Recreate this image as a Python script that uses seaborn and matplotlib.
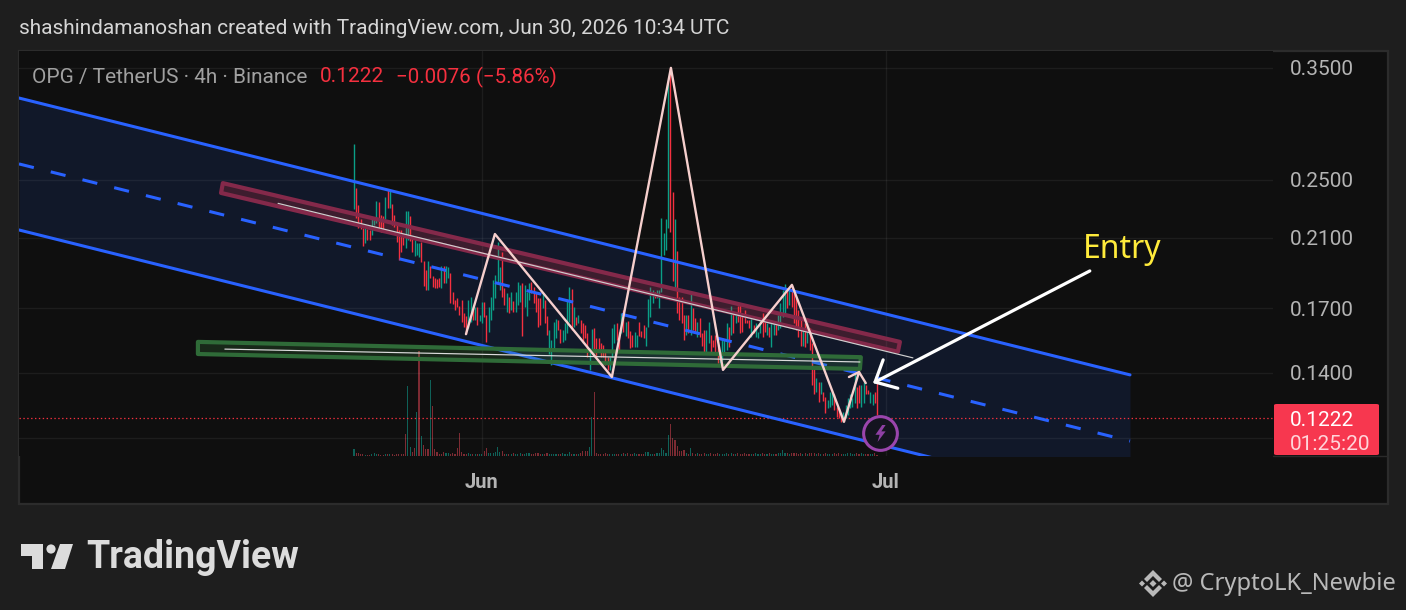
import pandas as pd
import matplotlib.pyplot as plt
import seaborn as sns
from matplotlib.patches import Polygon, Rectangle, Circle, FancyBboxPatch
from matplotlib.lines import Line2D

# 4h candles, high / low / direction, one entry per bar
bar_high = [
    .2785, .2440, .2319, .2223, .2164, .2164, .2157, .2151, .2236, .2236,
    .2347, .2340, .2250, .2243, .2375, .2425, .2418, .2326, .2250, .2183,
    .2151, .2151, .2119, .2277, .2277, .2243, .2100, .2087, .2068, .2068,
    .2075, .1960, .1908, .1960, .1931, .1874, .1862, .1857, .1862, .1931,
    .1931, .1931, .1925, .1890, .1786, .1744, .1755, .1712, .1744, .1677,
    .1661, .1744, .1760, .1707, .1707, .1707, .1666, .1734, .1734, .1666,
    .1707, .1760, .1851, .1880, .2075, .1925, .2013, .1808, .1781, .1760,
    .1786, .1739, .1786, .1840, .1824, .1835, .1824, .1786, .1835, .1840,
    .1813, .1781, .1755, .1755, .1781, .1744, .1661, .1593, .1546, .1631,
    .1646, .1641, .1598, .1593, .1626, .1749, .1813, .1802, .1707, .1656,
    .1666, .1641, .1626, .1617, .1578, .1509, .1598, .1602, .1556, .1556,
    .1532, .1523, .1500, .1468, .1468, .1602, .1622, .1626, .1584, .1677,
    .1692, .1631, .1636, .1589, .1568, .1584, .1568, .1631, .1589, .1617,
    .1607, .1749, .1813, .1797, .1786, .1797, .1797, .2230, .2132, .2223,
    .3344, .3500, .2411, .2223, .2019, .1760, .1760, .1666, .1666, .1666,
    .1786, .1702, .1651, .1631, .1651, .1578, .1593, .1593, .1631, .1568,
    .1546, .1568, .1523, .1500, .1546, .1546, .1626, .1607, .1712, .1682,
    .1682, .1712, .1728, .1677, .1692, .1641, .1641, .1651, .1617, .1626,
    .1584, .1641, .1677, .1641, .1626, .1607, .1641, .1626, .1631, .1666,
    .1728, .1797, .1830, .1797, .1797, .1824, .1786, .1755, .1692, .1651,
    .1593, .1626, .1626, .1602, .1532, .1421, .1380, .1363, .1363, .1322,
    .1302, .1291, .1322, .1322, .1314, .1264, .1260, .1242, .1245, .1272,
    .1299, .1314, .1299, .1405, .1342, .1351, .1351, .1363, .1351, .1330,
    .1322, .1314, .1322, .1385,
]
bar_low = [
    .2291, .2230, .2164, .2157, .2050, .2068, .2087, .2087, .2119, .2183,
    .2196, .2164, .2138, .2151, .2223, .2298, .2298, .2183, .2170, .2075,
    .1966, .2013, .2056, .2037, .2087, .2081, .2013, .1990, .1996, .1984,
    .1954, .1820, .1797, .1797, .1862, .1813, .1808, .1808, .1813, .1808,
    .1835, .1835, .1862, .1728, .1723, .1692, .1707, .1666, .1631, .1607,
    .1573, .1602, .1631, .1641, .1641, .1617, .1636, .1626, .1656, .1537,
    .1584, .1641, .1692, .1755, .1835, .1797, .1760, .1718, .1682, .1677,
    .1692, .1682, .1682, .1718, .1734, .1563, .1707, .1661, .1744, .1781,
    .1728, .1682, .1607, .1617, .1702, .1626, .1568, .1482, .1434, .1500,
    .1556, .1593, .1532, .1537, .1546, .1578, .1631, .1593, .1607, .1617,
    .1626, .1578, .1532, .1556, .1468, .1413, .1500, .1486, .1468, .1491,
    .1468, .1468, .1434, .1413, .1413, .1468, .1532, .1546, .1500, .1578,
    .1584, .1563, .1556, .1509, .1514, .1514, .1514, .1563, .1559, .1556,
    .1519, .1607, .1656, .1728, .1755, .1755, .1702, .1786, .1996, .2025,
    .2164, .2138, .1846, .1797, .1677, .1641, .1626, .1546, .1568, .1578,
    .1568, .1593, .1578, .1559, .1559, .1519, .1486, .1486, .1532, .1486,
    .1514, .1486, .1443, .1442, .1450, .1486, .1500, .1514, .1568, .1578,
    .1626, .1631, .1578, .1584, .1626, .1626, .1602, .1559, .1578, .1559,
    .1556, .1578, .1559, .1584, .1568, .1559, .1514, .1568, .1568, .1593,
    .1602, .1656, .1677, .1702, .1718, .1707, .1626, .1593, .1559, .1519,
    .1519, .1514, .1532, .1500, .1351, .1314, .1322, .1283, .1314, .1287,
    .1242, .1260, .1264, .1272, .1253, .1228, .1224, .1209, .1209, .1224,
    .1235, .1260, .1264, .1279, .1260, .1279, .1264, .1279, .1314, .1314,
    .1279, .1272, .1279, .1235,
]
bar_dir = list(
    "GRRRRGRRGG" "GRRRGRGRRR" "RRRGGRRGGG" "RRRGRRRRRG" "RGGRRRRRRR"
    "RGGRGRGGRR" "GGGGGGRRGR" "GRGGGRGGGR" "RRRRGRRGGG" "GRRGGGGRGR"
    "GRRRRGGRRR" "RRRRGGGRRG" "RGRRRGGRRR" "GGGGRGGGGG" "GRRGRRRRGR"
    "GRRGRRRGGR" "RRRGGGGRGR" "GRRRRRRGRG" "GGRRGRGGRG" "GGGRGRRRRR"
    "GRGRRRGRGR" "RGGGRRRRGG" "GGGGRRGGRR" "GGRR"
)
volume = [
    7, 3, 3, 2, 2, 1, 1, 1, 2, 3,
    2, 2, 1, 1, 2, 2, 2, 2, 1, 2,
    2, 2, 2, 21, 68, 9, 4, 8, 43, 102,
    19, 11, 7, 7, 74, 49, 7, 4, 2, 2,
    4, 3, 3, 2, 3, 2, 8, 22, 4, 2,
    2, 3, 2, 2, 2, 2, 2, 2, 5, 8,
    3, 3, 3, 4, 9, 4, 5, 2, 2, 2,
    2, 3, 2, 2, 3, 2, 2, 3, 3, 2,
    2, 3, 3, 2, 2, 2, 3, 2, 2, 2,
    2, 2, 2, 3, 2, 2, 4, 2, 2, 2,
    2, 3, 5, 5, 5, 9, 38, 62, 3, 2,
    2, 2, 3, 2, 2, 2, 2, 2, 2, 2,
    3, 2, 3, 2, 2, 3, 2, 2, 2, 2,
    4, 4, 2, 2, 2, 3, 3, 8, 6, 3,
    20, 31, 17, 16, 10, 5, 5, 6, 3, 2,
    8, 3, 2, 3, 2, 2, 3, 2, 2, 3,
    2, 2, 3, 2, 2, 2, 3, 2, 3, 2,
    2, 3, 2, 2, 3, 2, 2, 2, 2, 3,
    2, 2, 3, 2, 2, 3, 2, 2, 2, 3,
    3, 6, 3, 3, 2, 3, 3, 3, 2, 3,
    2, 3, 2, 3, 3, 3, 2, 3, 2, 2,
    3, 2, 2, 2, 3, 2, 3, 2, 2, 2,
    3, 3, 2, 2, 3, 2, 3, 2, 2, 2,
    2, 2, 3, 1,
]
vol_dir = list(
    "GRRRRGRRGG" "GRRRGRGRRR" "RRRRGGRRGR" "GRRRGRRRRR" "RGGRRRRRRR"
    "RGGRGRGGRR" "GGGGGGRRGR" "GRGGGRGGGR" "RRRRGRRGGG" "GRRGGGGRGR"
    "GRRRRGGRRR" "RRRRGGGRRG" "RGRRRGGRRR" "GGGGRGGGGG" "GRRRRRRRGR"
    "GRRGRRRGGR" "RRRGGGGRGR" "GRRRRRRGRG" "GGRRGRGGRG" "GGGRGRRRRR"
    "GRGRRRGRGR" "RGGGRRRRGG" "GGGGRRGGRR" "GGRR"
)

# price axis
price_ticks = [0.35, 0.25, 0.21, 0.17, 0.14, 0.115]
price_labels = ["0.3500", "0.2500", "0.2100", "0.1700", "0.1400", ""]
last_price = 0.1222
month_bars = [57, 237]
month_labels = ["Jun", "Jul"]

# drawings, bar number / price
channel_x = [-149.2, 345.7]
channel_top = [.3197, .1392]
channel_mid = [.2623, .1141]
channel_bot = [.2151, .0936]
zigzag_x = [49.9, 62.8, 114.9, 141.2, 164.4, 195.1, 218.3, 225, 228]
zigzag_y = [.1573, .2125, .1383, .35, .1413, .1824, .1209, .1404, .1358]
tail_x = [220.5, 225]
tail_y = [.1383, .1404]
red_band_x = [-58.4, 243.2, 242.3, -59.2]
red_band_y = [.2476, .1537, .1492, .2404]
red_line_x = [-33.8, 249]
red_line_y = [.2330, .1465]
green_band_x = [-69.5, 225.8, 225.4, -69.5]
green_band_y = [.1537, .1468, .1417, .1482]
green_line_x = [-57.5, 225.4]
green_line_y = [.1504, .1447]
arrow_tail = (327.8, .1902)
arrow_tip = (231.2, .1358)
bolt_at = (234.4, .1169)

W, H = 1406, 610
BG = "#1e1e1e"
PANE = "#0f0f0f"
BLUE = "#2962ff"
UP = "#0a9f87"
DOWN = "#f5303f"
BOLT = [(0.2, 1), (-0.6, -0.15), (-0.1, -0.15), (-0.35, -1), (0.6, 0.25), (0.1, 0.25), (0.6, 1)]


def px(x, y):
    return x / W, 1 - y / H


sns.set_theme(style="dark")
plt.rcParams["font.family"] = ["Roboto", "DejaVu Sans"]

fig = plt.figure(figsize=(W / 100, H / 100), dpi=100, facecolor=BG)
fig.add_artist(Rectangle(px(19, 504), 1369 / W, 453 / H, transform=fig.transFigure,
                         facecolor=PANE, edgecolor="#2c2c2c", lw=1.6, zorder=-1))
fig.add_artist(Line2D([1273 / W, 1388 / W], [1 - 455.5 / H] * 2, color="#2a2a2a", lw=1,
                      transform=fig.transFigure, zorder=1))

ax = fig.add_axes([19 / W, 1 - 456 / H, (1273 - 19) / W, (456 - 51) / H])
ax.set_yscale("log")
ax.set_zorder(2)
ax.patch.set_visible(False)

# volume sits under everything else
df_vol = pd.DataFrame({"bar": range(len(volume)), "vol": volume, "dir": vol_dir})
ax_vol = ax.twinx()
ax_vol.set_zorder(1)
ax_vol.patch.set_visible(True)
ax_vol.patch.set_facecolor(PANE)
sns.barplot(data=df_vol, x="bar", y="vol", hue="dir", palette={"G": "#0f6158", "R": "#7d2b33"},
            native_scale=True, dodge=False, width=0.5, saturation=1, errorbar=None,
            legend=False, linewidth=0, edgecolor="none", ax=ax_vol)
ax_vol.set_ylim(0, 393)
ax_vol.set_yticks([])
ax_vol.set_ylabel("")
ax_vol.set_xlabel("")
ax_vol.grid(False)
for s in ax_vol.spines.values():
    s.set_visible(False)

ax.fill_between(channel_x, channel_top, channel_bot, color="#111829", lw=0, zorder=1)

df = pd.DataFrame({"bar": range(len(bar_high)), "high": bar_high, "low": bar_low, "dir": bar_dir})
for key, col in [("G", UP), ("R", DOWN)]:
    part = df[df["dir"] == key]
    ax.vlines(part["bar"], part["low"], part["high"], color=col, lw=1.0, zorder=3)

ax.axhline(last_price, color=DOWN, lw=0.9, linestyle=(0, (1.1, 2.0)), zorder=3.5)

sns.lineplot(x=channel_x, y=channel_top, color=BLUE, lw=2.2, estimator=None, sort=False, ax=ax, zorder=4)
sns.lineplot(x=channel_x, y=channel_bot, color=BLUE, lw=2.2, estimator=None, sort=False, ax=ax, zorder=4)
sns.lineplot(x=channel_x, y=channel_mid, color=BLUE, lw=2.2, linestyle=(0, (5, 5.7)),
             estimator=None, sort=False, ax=ax, zorder=4)

ax.add_patch(Polygon(list(zip(red_band_x, red_band_y)), closed=True, facecolor=(0.95, 0.21, 0.27, 0.2),
                     edgecolor="#84294a", lw=3, joinstyle="round", zorder=4.5))
ax.add_patch(Polygon(list(zip(green_band_x, green_band_y)), closed=True, facecolor=(0.3, 0.69, 0.31, 0.16),
                     edgecolor="#2f6b38", lw=3, joinstyle="round", zorder=4.5))
sns.lineplot(x=red_line_x, y=red_line_y, color="#cfcfcf", lw=0.85, estimator=None, sort=False, ax=ax, zorder=4.6)
sns.lineplot(x=green_line_x, y=green_line_y, color="#dcdcdc", lw=0.85, estimator=None, sort=False, ax=ax, zorder=4.6)

sns.lineplot(x=zigzag_x, y=zigzag_y, color="#f6cfcd", lw=1.7, estimator=None, sort=False, ax=ax, zorder=5)
sns.lineplot(x=tail_x, y=tail_y, color="#f6cfcd", lw=1.7, estimator=None, sort=False, ax=ax, zorder=5)

ax.annotate("", xy=arrow_tip, xytext=arrow_tail, zorder=6,
            arrowprops=dict(arrowstyle="->,head_length=1.25,head_width=1.15", mutation_scale=10,
                            color="white", lw=2.3, shrinkA=0, shrinkB=0))

ax.scatter([bolt_at[0]], [bolt_at[1]], s=590, facecolor="#14141f", edgecolor="#9a45ad", lw=2.2, zorder=6)
ax.scatter([bolt_at[0]], [bolt_at[1]], s=150, marker=BOLT, color="#8f40a4", lw=0, zorder=7)

ax.set_xlim(-149.2, 409.4)
ax.set_ylim(0.1091, 0.3682)
ax.minorticks_off()
ax.set_yticks(price_ticks, labels=price_labels)
ax.yaxis.tick_right()
ax.set_xticks(month_bars, labels=month_labels)
ax.set_axisbelow(False)
ax.grid(True, color="white", alpha=0.06, lw=1)
ax.tick_params(axis="y", length=0, pad=12, labelsize=15, labelcolor="#b4b4b4")
ax.tick_params(axis="x", length=0, pad=12.5, labelsize=14.5, labelcolor="#b4b4b4")
for lab in ax.get_xticklabels():
    lab.set_fontweight("bold")
ax.set_xlabel("")
ax.set_ylabel("")
for s in ax.spines.values():
    s.set_visible(False)

# last price tag
fig.add_artist(FancyBboxPatch(px(1274, 455), 105 / W, 51 / H, boxstyle="round,pad=0,rounding_size=0.002",
                              transform=fig.transFigure, facecolor="#f7374f", edgecolor="none", zorder=3))
fig.text(*px(1290, 420), "0.1222", color="white", fontsize=15, va="center", zorder=4)
fig.text(*px(1290, 444), "01:25:20", color="#ffd5da", fontsize=15, va="center", zorder=4)

# header and legend
fig.text(*px(19, 29), "shashindamanoshan created with TradingView.com, Jun 30, 2026 10:34 UTC",
         color="#d6d6d6", fontsize=15.05, va="center")
fig.text(*px(32, 77), "OPG / TetherUS \u00b7 4h \u00b7 Binance", color="#a0a0a0", fontsize=15, va="center", zorder=4)
fig.text(*px(320, 77), "0.1222", color=DOWN, fontsize=15, va="center", zorder=4)
fig.text(*px(396, 77), "\u22120.0076 (\u22125.86%)", color=DOWN, fontsize=14.8, va="center", zorder=4)
fig.text(*px(1083, 250), "Entry", color="#ffeb3b", fontsize=23, family="Noto Sans", va="center", zorder=4)

# TradingView mark
LOGO = "#dcdcdc"
for pts in ([(21, 544), (43, 544), (43, 569), (32, 569), (32, 556), (21, 556)],
            [(60, 544), (73, 544), (65, 569), (51, 569)]):
    fig.add_artist(Polygon([px(*p) for p in pts], closed=True, transform=fig.transFigure,
                           facecolor=LOGO, edgecolor="none"))
ax_logo = fig.add_axes([0, 0, 1, 1], zorder=3)
ax_logo.set_xlim(0, W)
ax_logo.set_ylim(H, 0)
ax_logo.axis("off")
ax_logo.add_patch(Circle((51, 549), 4.6, facecolor=LOGO, edgecolor="none"))
fig.text(*px(86, 558), "TradingView", color=LOGO, fontsize=27, fontweight="bold", va="center")

# watermark, diamond mark and handle
WM = "#b9b9b9"
for pts in ([(1153, 570), (1162, 579), (1159, 582), (1153, 576), (1147, 582), (1144, 579)],
            [(1153, 597), (1162, 588), (1159, 585), (1153, 591), (1147, 585), (1144, 588)],
            [(1153, 580), (1156.5, 583.5), (1153, 587), (1149.5, 583.5)],
            [(1142, 580.5), (1145, 583.5), (1142, 586.5), (1139, 583.5)],
            [(1164, 580.5), (1167, 583.5), (1164, 586.5), (1161, 583.5)]):
    fig.add_artist(Polygon([px(*p) for p in pts], closed=True, transform=fig.transFigure,
                           facecolor=WM, edgecolor="none"))
fig.text(*px(1172, 584), "@ CryptoLK_Newbie", color=WM, fontsize=17.1, family="Noto Sans", va="center")

fig.savefig("out.png", dpi=100, facecolor=BG)
